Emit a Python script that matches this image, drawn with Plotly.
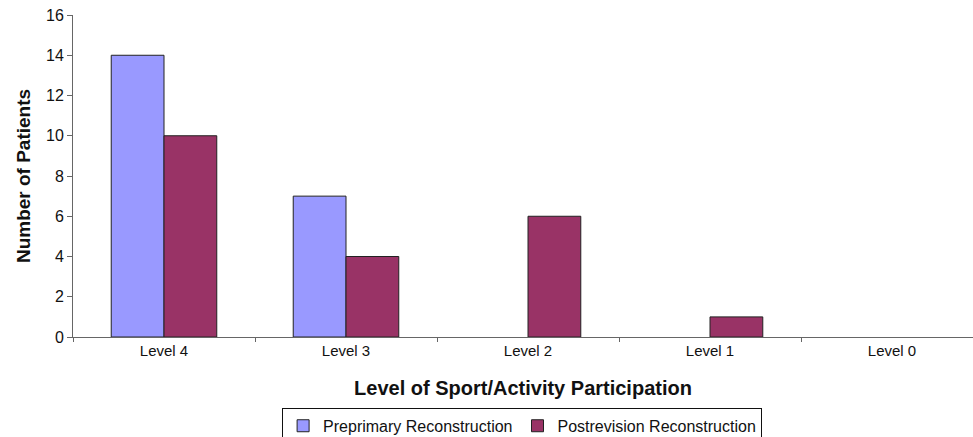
import plotly.graph_objects as go

categories = ["Level 4", "Level 3", "Level 2", "Level 1", "Level 0"]
preprimary = [14, 7, 0, 0, 0]
postrevision = [10, 4, 6, 1, 0]
y_ticks = [0, 2, 4, 6, 8, 10, 12, 14, 16]

FONT = "Arial, Liberation Sans, sans-serif"


def outline_widths(values):
    return [1 if v > 0 else 0 for v in values]


fig = go.Figure()
fig.add_trace(go.Bar(
    x=categories, y=preprimary, name="Preprimary Reconstruction",
    marker=dict(color="#9999FF",
                line=dict(color="#222222", width=outline_widths(preprimary))),
))
fig.add_trace(go.Bar(
    x=categories, y=postrevision, name="Postrevision Reconstruction",
    marker=dict(color="#993366",
                line=dict(color="#222222", width=outline_widths(postrevision))),
))

fig.update_layout(
    width=973, height=437,
    margin=dict(l=73, r=0, t=15, b=100, autoexpand=False),
    plot_bgcolor="white", paper_bgcolor="white",
    barmode="group", bargap=0.42, bargroupgap=0,
    font=dict(family=FONT, color="#111111"),
    showlegend=True,
    legend=dict(
        orientation="h", x=0.499, xanchor="center", y=-0.22, yanchor="top",
        bordercolor="#111111", borderwidth=1, font=dict(size=16, family=FONT),
        itemwidth=30, tracegroupgap=0,
    ),
    xaxis=dict(
        range=[-0.5, 4.445], automargin=False,
        showline=True, linecolor="#666666", linewidth=1,
        ticks="outside", tickson="boundaries", ticklen=4, tickcolor="#666666",
        tickfont=dict(size=15, family=FONT),
        title=dict(text="<b>Level of Sport/Activity Participation</b>",
                   font=dict(size=20, family=FONT), standoff=22),
        showgrid=False, zeroline=False,
    ),
    yaxis=dict(
        range=[0, 16], tickvals=y_ticks, automargin=False,
        showline=True, linecolor="#666666", linewidth=1,
        ticks="outside", ticklen=5, tickcolor="#666666",
        tickfont=dict(size=16, family=FONT),
        title=dict(text="<b>Number of Patients</b>",
                   font=dict(size=19, family=FONT), standoff=10),
        showgrid=False, zeroline=False,
    ),
)

fig.write_html("out.html")
